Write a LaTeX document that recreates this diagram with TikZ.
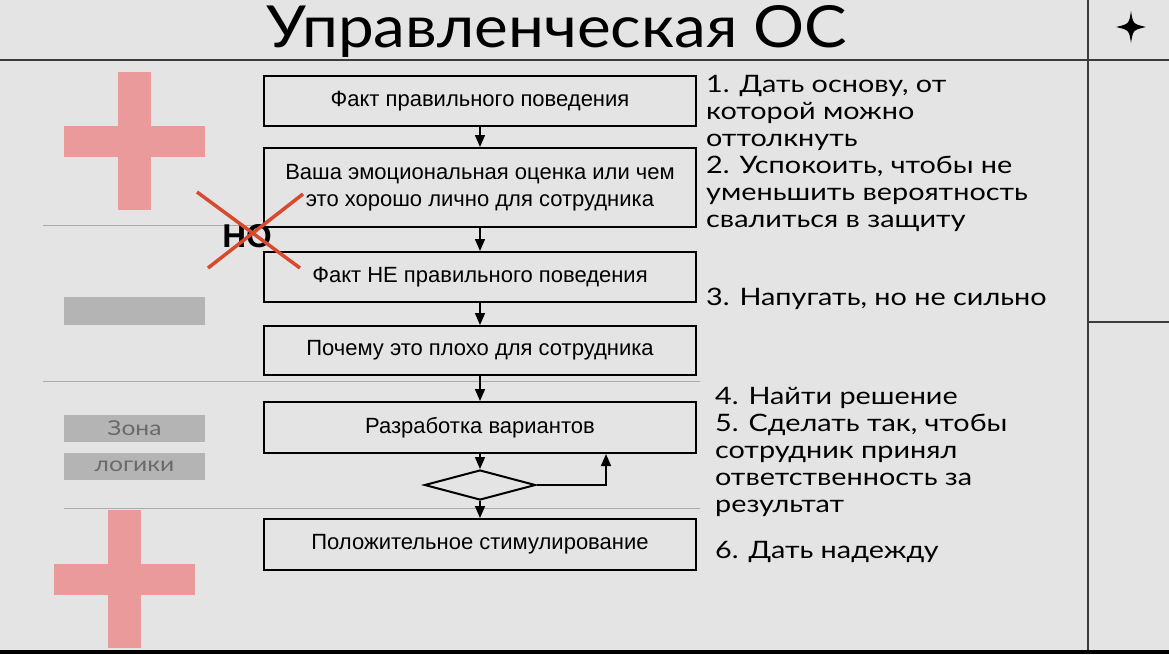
\documentclass[tikz,border=0pt]{standalone}
\usepackage{fontspec}
\setmainfont{Liberation Sans}
\newfontfamily\geofont[FakeStretch=1.2]{Lato}
\newfontfamily\headfont[FakeStretch=1.1]{Lato}
\usetikzlibrary{arrows.meta,positioning,shapes.geometric}
\definecolor{paper}{HTML}{E4E4E4}
\definecolor{plusred}{HTML}{EA9A9A}
\definecolor{minusgrey}{HTML}{B4B4B4}
\definecolor{crossred}{HTML}{D84A30}
\definecolor{ruleline}{HTML}{3C3C3C}
\definecolor{zoneline}{HTML}{ABABAB}
\definecolor{zonetext}{HTML}{6A6A6A}

\tikzset{
  stepbox/.style={draw=black, line width=2pt, minimum width=432pt, minimum height=50pt,
    inner sep=0pt, align=center, font=\fontsize{22}{27}\selectfont},
  flow/.style={line width=1.6pt, -{Triangle[length=12pt,width=10pt]}},
  note/.style={anchor=west, inner sep=0pt, align=left, font=\geofont\fontsize{24}{27}\selectfont},
  zonebox/.style={fill=minusgrey, minimum width=141pt, minimum height=27pt, inner sep=0pt,
    text=zonetext, font=\geofont\fontsize{20.5}{22}\selectfont},
}

\begin{document}
\begin{tikzpicture}[x=1pt,y=-1pt]
  \useasboundingbox (0,0) rectangle (1169,654);
  \fill[paper] (0,0) rectangle (1169,654);

  \draw[ruleline,line width=1.4pt] (0,60) -- (1169,60);
  \draw[ruleline,line width=1.4pt] (1088,0) -- (1088,654);
  \draw[ruleline,line width=1.2pt] (1088,322) -- (1169,322);
  \draw[zoneline,line width=1pt] (43,225) -- (264,225);
  \draw[zoneline,line width=1pt] (43,381) -- (700,381);
  \draw[zoneline,line width=1pt] (64,508) -- (700,508);
  \fill[black] (0,650) rectangle (1169,654);

  \node (title) at (557,31) {\headfont\fontsize{58}{60}\selectfont Управленческая ОС};
  \fill[black] (1131,11) .. controls (1133,24) .. (1146,27) .. controls (1133,30) .. (1131,43)
    .. controls (1129,30) .. (1116,27) .. controls (1129,24) .. cycle;

  \foreach \cx/\cy in {134/141, 124/579} {
    \fill[plusred] (\cx-16.5,\cy-69) rectangle (\cx+16.5,\cy+69);
    \fill[plusred] (\cx-70.5,\cy-15.5) rectangle (\cx+70.5,\cy+15.5);
  }
  \fill[minusgrey] (64,297) rectangle (205,325);
  \node[zonebox] (zone1) at (134.5,428) {Зона};
  \node[zonebox] (zone2) at (134.5,466.5) {логики};

  \node[stepbox] (f1) at (480,101) {Факт правильного поведения};
  \node[stepbox,minimum height=79pt] (f2) at (480,187.5) {Ваша эмоциональная оценка или чем\\это хорошо лично для сотрудника};
  \node[stepbox] (f3) at (480,277) {Факт НЕ правильного поведения};
  \node[stepbox,minimum height=49pt] (f4) at (480,350.5) {Почему это плохо для сотрудника};
  \node[stepbox,minimum height=51pt] (f5) at (480,427.5) {Разработка вариантов};
  \node[draw=black,line width=2pt,diamond,aspect=3.7,minimum width=111pt,minimum height=30pt,inner sep=0pt] (dec) at (480,485) {};
  \node[stepbox,minimum height=51pt] (f6) at (480,544.5) {Положительное стимулирование};
  \coordinate (back) at (606,454);

  \draw[flow] (f1) -- (f2);
  \draw[flow] (f2) -- (f3);
  \draw[flow] (f3) -- (f4);
  \draw[flow] (f4) -- (f5);
  \draw[flow] (f5) -- (dec);
  \draw[flow] (dec) -- (f6);
  \draw[flow] (dec.east) -| (back);

  \node[font=\bfseries\fontsize{33}{36}\selectfont] (no) at (247,236) {НО};
  \draw[crossred,line width=3.5pt] (197,192) -- (300,268);
  \draw[crossred,line width=3.5pt] (208,268) -- (303,194);

  \node[note] (n1) at (706,153) {1. Дать основу, от\\которой можно\\оттолкнуть\\2. Успокоить, чтобы не\\уменьшить вероятность\\свалиться в защиту};
  \node[note] (n2) at (706,299) {3. Напугать, но не сильно};
  \node[note] (n3) at (715,452) {4. Найти решение\\5. Сделать так, чтобы\\сотрудник принял\\ответственность за\\результат};
  \node[note] (n4) at (715,552) {6. Дать надежду};
\end{tikzpicture}
\end{document}
